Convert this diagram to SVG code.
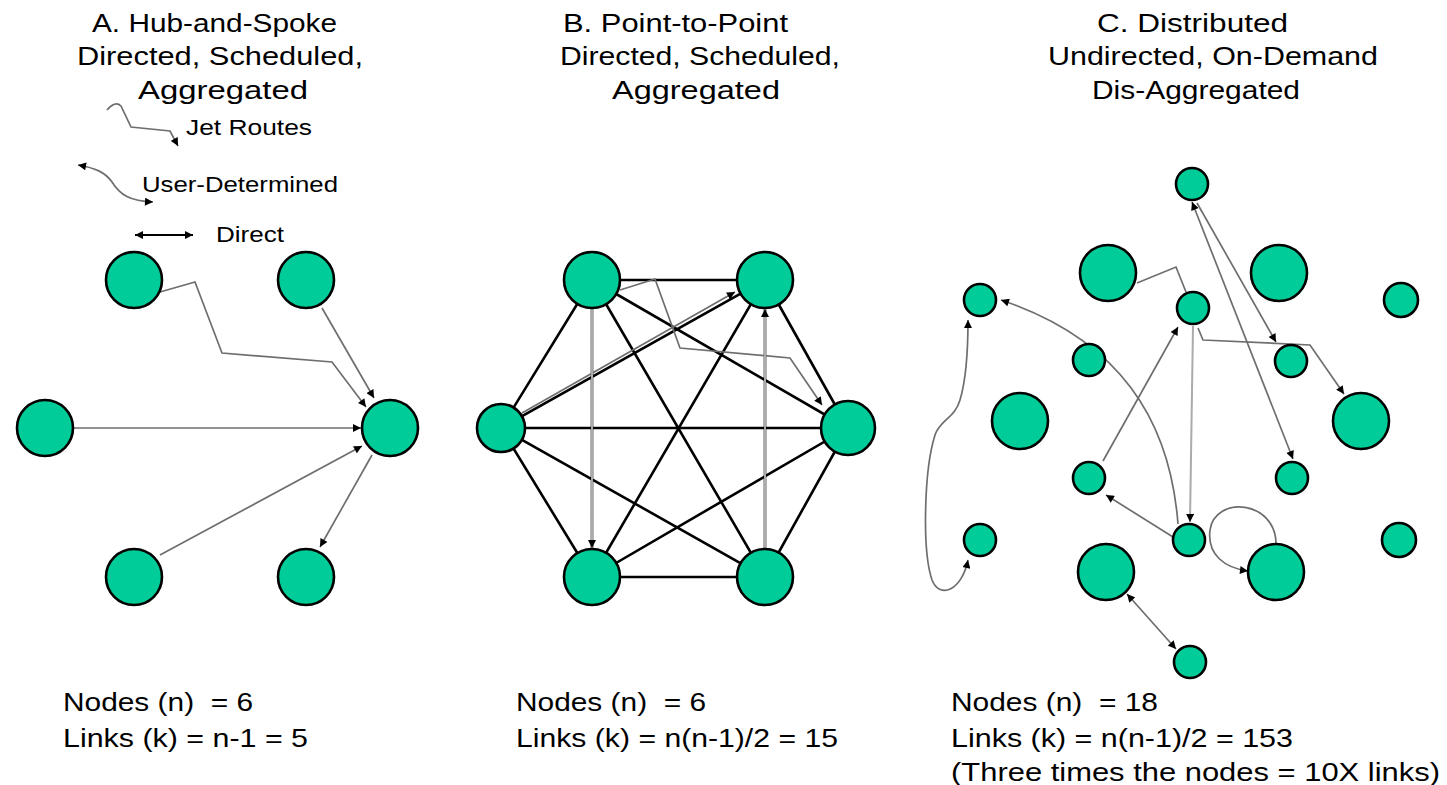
<svg xmlns="http://www.w3.org/2000/svg" width="1447" height="785" viewBox="0 0 1447 785">
  <style>
    .bg { fill: #ffffff; }
    .t { font-family: "Liberation Sans", Arial, sans-serif; font-size: 26px; fill: #000; }
    .lg { font-family: "Liberation Sans", Arial, sans-serif; font-size: 22px; fill: #000; }
    .node { fill: #00cc99; stroke: #000; stroke-width: 2.6; }
    .k { fill: none; stroke: #000; stroke-width: 2.6; }
    .g { fill: none; stroke: #6e6e6e; stroke-width: 1.7; }
    .lt { fill: none; stroke: #ababab; stroke-width: 2; }
    .d { fill: none; stroke: #000; stroke-width: 1.8; }
  </style>
  <defs>
    <marker id="ah" viewBox="0 0 10 10" refX="10" refY="5" markerWidth="9" markerHeight="8" markerUnits="userSpaceOnUse" orient="auto-start-reverse">
      <path d="M0,0 L10,5 L0,10 z" fill="#000"/>
    </marker>
  </defs>
  <rect class="bg" x="0" y="0" width="1447" height="785"/>

  <!-- titles -->
  <g id="titles">
    <text class="t" x="92" y="32" textLength="245" lengthAdjust="spacingAndGlyphs">A. Hub-and-Spoke</text>
    <text class="t" x="77" y="65" textLength="286" lengthAdjust="spacingAndGlyphs">Directed, Scheduled,</text>
    <text class="t" x="138" y="99" textLength="170" lengthAdjust="spacingAndGlyphs">Aggregated</text>
    <text class="t" x="563" y="32" textLength="225" lengthAdjust="spacingAndGlyphs">B. Point-to-Point</text>
    <text class="t" x="560" y="65" textLength="280" lengthAdjust="spacingAndGlyphs">Directed, Scheduled,</text>
    <text class="t" x="612" y="99" textLength="168" lengthAdjust="spacingAndGlyphs">Aggregated</text>
    <text class="t" x="1097" y="32" textLength="191" lengthAdjust="spacingAndGlyphs">C. Distributed</text>
    <text class="t" x="1048" y="65" textLength="330" lengthAdjust="spacingAndGlyphs">Undirected, On-Demand</text>
    <text class="t" x="1092" y="99" textLength="208" lengthAdjust="spacingAndGlyphs">Dis-Aggregated</text>
  </g>

  <!-- legend -->
  <g id="legend">
    <path class="g" d="M107,110 C112,104 117,102 121,106 L131,127 L170,131 L178,146" marker-end="url(#ah)"/>
    <text class="lg" x="186" y="135" textLength="126" lengthAdjust="spacingAndGlyphs">Jet Routes</text>
    <path class="g" d="M78,165 C95,168 105,172 112,182 C120,195 130,201 153,202" marker-start="url(#ah)" marker-end="url(#ah)"/>
    <text class="lg" x="142" y="192" textLength="196" lengthAdjust="spacingAndGlyphs">User-Determined</text>
    <path class="d" d="M135,235 L193,235" marker-start="url(#ah)" marker-end="url(#ah)"/>
    <text class="lg" x="216" y="242" textLength="68" lengthAdjust="spacingAndGlyphs">Direct</text>
  </g>

  <!-- connectors -->
  <g id="connectors">
    <!-- A: hub and spoke -->
    <path class="g" d="M160,292 L195,282 L222,353 L332,362 L366,407" marker-end="url(#ah)"/>
    <path class="g" d="M322,308 L374,398" marker-end="url(#ah)"/>
    <path class="g" d="M74,428 L361,428" marker-end="url(#ah)"/>
    <path class="g" d="M160,555 L362,446" marker-end="url(#ah)"/>
    <path class="g" d="M372,455 L320,547" marker-end="url(#ah)"/>

    <!-- B: complete graph -->
    <path class="k" d="M592,280 L765,280 M592,280 L501,428 M592,280 L848,428 M592,280 L592,577 M592,280 L765,577
                       M765,280 L501,428 M765,280 L848,428 M765,280 L592,577 M765,280 L765,577
                       M501,428 L848,428 M501,428 L592,577 M501,428 L765,577
                       M848,428 L592,577 M848,428 L765,577 M592,577 L765,577"/>
    <path class="g" d="M620,290 L655,279 L680,348 L790,358 L822,405" marker-end="url(#ah)"/>
    <path class="g" d="M522,413 L735,292" marker-end="url(#ah)"/>
    <path class="lt" d="M592,308 L592,548" marker-end="url(#ah)"/>
    <path class="lt" d="M765,549 L765,309" marker-end="url(#ah)"/>

    <!-- C: distributed -->
    <path class="g" d="M1137,283 L1176,267 L1186,292"/>
    <path class="g" d="M1198,328 L1203,340 L1310,345 L1344,394" marker-end="url(#ah)"/>
    <path class="g" d="M1197,203 L1276,342" marker-end="url(#ah)"/>
    <path class="g" d="M1192,202 L1293,459" marker-start="url(#ah)" marker-end="url(#ah)"/>
    <path class="g" d="M1178,524 C1170,420 1120,340 1001,300" marker-end="url(#ah)"/>
    <path class="g" d="M1103,461 L1178,327" marker-end="url(#ah)"/>
    <path class="lt" d="M1193,326 L1190,522" marker-end="url(#ah)"/>
    <path class="g" d="M1173,537 L1106,495" marker-end="url(#ah)"/>
    <path class="g" d="M1276,544 C1276,500 1215,495 1210,530 C1207,555 1225,568 1248,571" marker-end="url(#ah)"/>
    <path class="g" d="M1127,594 L1176,649" marker-start="url(#ah)" marker-end="url(#ah)"/>
    <path class="g" d="M968,320 C968,345 966,380 960,400 C955,418 940,420 935,435 C924,470 922,550 932,580 C940,600 962,590 968,560" marker-start="url(#ah)" marker-end="url(#ah)"/>
  </g>

  <!-- A nodes -->
  <g id="a-n1"><circle class="node" cx="134" cy="280" r="28"/></g>
  <g id="a-n2"><circle class="node" cx="306" cy="280" r="28"/></g>
  <g id="a-n3"><circle class="node" cx="45" cy="428" r="28"/></g>
  <g id="a-hub"><circle class="node" cx="390" cy="428" r="28"/></g>
  <g id="a-n4"><circle class="node" cx="134" cy="577" r="28"/></g>
  <g id="a-n5"><circle class="node" cx="306" cy="577" r="28"/></g>

  <!-- B nodes -->
  <g id="b-n1"><circle class="node" cx="592" cy="280" r="28"/></g>
  <g id="b-n2"><circle class="node" cx="765" cy="280" r="28"/></g>
  <g id="b-n3"><circle class="node" cx="501" cy="428" r="24"/></g>
  <g id="b-n4"><circle class="node" cx="848" cy="428" r="27"/></g>
  <g id="b-n5"><circle class="node" cx="592" cy="577" r="28"/></g>
  <g id="b-n6"><circle class="node" cx="765" cy="577" r="28"/></g>

  <!-- C nodes -->
  <g id="c-n1"><circle class="node" cx="980" cy="300" r="16"/></g>
  <g id="c-n2"><circle class="node" cx="1108" cy="273" r="28"/></g>
  <g id="c-n3"><circle class="node" cx="1089" cy="360" r="16"/></g>
  <g id="c-n4"><circle class="node" cx="1020" cy="421" r="28"/></g>
  <g id="c-n5"><circle class="node" cx="1192" cy="184" r="16"/></g>
  <g id="c-n6"><circle class="node" cx="1279" cy="273" r="28"/></g>
  <g id="c-n7"><circle class="node" cx="1401" cy="300" r="17"/></g>
  <g id="c-n8"><circle class="node" cx="1193" cy="308" r="16"/></g>
  <g id="c-n9"><circle class="node" cx="1291" cy="361" r="16"/></g>
  <g id="c-n10"><circle class="node" cx="1361" cy="421" r="28"/></g>
  <g id="c-n11"><circle class="node" cx="1089" cy="478" r="16"/></g>
  <g id="c-n12"><circle class="node" cx="1292" cy="478" r="16"/></g>
  <g id="c-n13"><circle class="node" cx="980" cy="540" r="16"/></g>
  <g id="c-n14"><circle class="node" cx="1189" cy="540" r="16"/></g>
  <g id="c-n15"><circle class="node" cx="1399" cy="540" r="17"/></g>
  <g id="c-n16"><circle class="node" cx="1106" cy="572" r="28"/></g>
  <g id="c-n17"><circle class="node" cx="1276" cy="572" r="28"/></g>
  <g id="c-n18"><circle class="node" cx="1190" cy="662" r="16"/></g>

  <!-- summary figures -->
  <g id="summaries">
    <text class="t" x="63" y="711" textLength="190" lengthAdjust="spacingAndGlyphs">Nodes (n)&#160; = 6</text>
    <text class="t" x="63" y="747" textLength="245" lengthAdjust="spacingAndGlyphs">Links (k) = n-1 = 5</text>
    <text class="t" x="516" y="711" textLength="190" lengthAdjust="spacingAndGlyphs">Nodes (n)&#160; = 6</text>
    <text class="t" x="516" y="747" textLength="322" lengthAdjust="spacingAndGlyphs">Links (k) = n(n-1)/2 = 15</text>
    <text class="t" x="951" y="711" textLength="207" lengthAdjust="spacingAndGlyphs">Nodes (n)&#160; = 18</text>
    <text class="t" x="951" y="747" textLength="342" lengthAdjust="spacingAndGlyphs">Links (k) = n(n-1)/2 = 153</text>
    <text class="t" x="951" y="781" textLength="489" lengthAdjust="spacingAndGlyphs">(Three times the nodes = 10X links)</text>
  </g>
</svg>
